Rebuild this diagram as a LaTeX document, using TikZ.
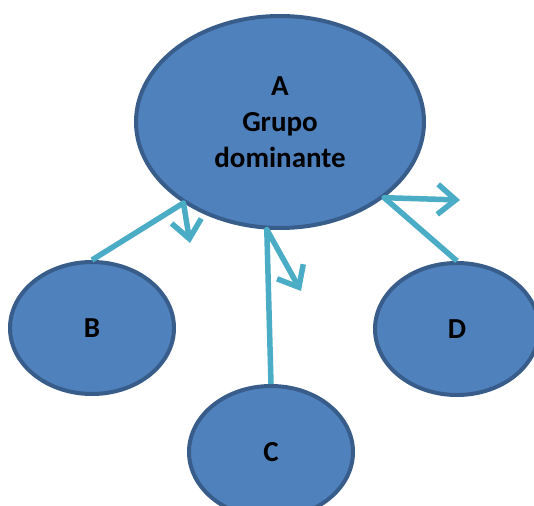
\documentclass[tikz,border=0pt]{standalone}
\usepackage{fontspec}
\setmainfont{Carlito}
\usetikzlibrary{shapes.geometric,arrows.meta}
\definecolor{fillblue}{HTML}{4F81BD}
\definecolor{edgeblue}{HTML}{385D8A}
\definecolor{linkblue}{HTML}{4BACC6}
\tikzset{
  bubble/.style={ellipse, draw=edgeblue, fill=fillblue, line width=4pt, inner sep=0pt,
    font=\bfseries\fontsize{29}{36}\selectfont, align=center},
  link/.style={draw=linkblue, line width=5.5pt},
  pointer/.style={draw=linkblue, line width=5.5pt, line cap=round, -{Straight Barb[length=18pt,width=30pt,line width=5.5pt]}}
}
\begin{document}
\begin{tikzpicture}[x=1pt,y=-1pt]
\useasboundingbox (0,0) rectangle (534,505);
\node[bubble, minimum width=288pt, minimum height=212pt] (A) at (280,122) {A\\Grupo\\dominante};
\node[bubble, minimum width=164pt, minimum height=132pt] (B) at (92,328) {B};
\node[bubble, minimum width=164pt, minimum height=132pt] (C) at (271,452) {C};
\node[bubble, minimum width=164pt, minimum height=132pt] (D) at (457,329) {D};
\coordinate (tB) at (190,243);
\coordinate (tC) at (301,291);
\coordinate (tD) at (460,200);
\draw[link] (A.220) -- (B.north);
\draw[pointer] (A.220) -- (tB);
\draw[link] (A.263.5) -- (C.north);
\draw[pointer] (A.263.5) -- (tC);
\draw[link] (A.324) -- (D.north);
\draw[pointer] (A.324) -- (tD);
\end{tikzpicture}
\end{document}
